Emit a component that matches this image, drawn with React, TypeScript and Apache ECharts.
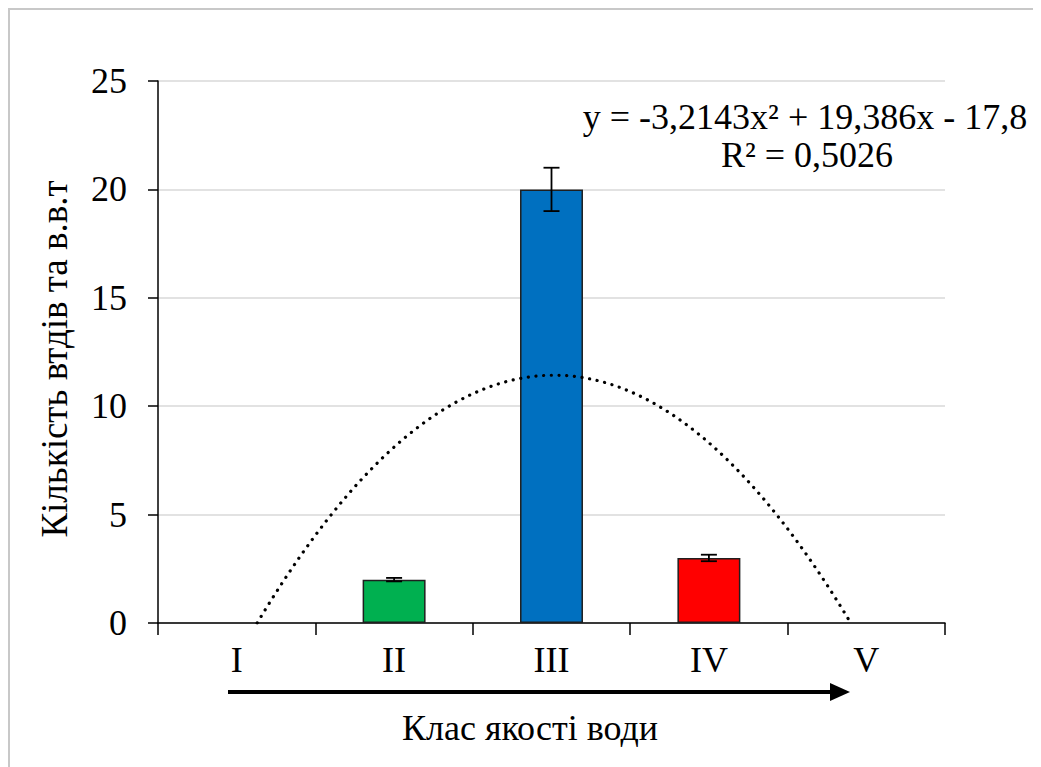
import React, { useEffect, useRef } from "react";
import * as echarts from "echarts";

const categories = ["I", "II", "III", "IV", "V"];
const values = [0, 2, 20, 3, 0];
const errors = [0, 0.08, 1, 0.15, 0];
const barColors = ["#00b050", "#00b050", "#0070c0", "#ff0000", "#ff0000"];
const yTicks = [0, 5, 10, 15, 20, 25];
const yTitle = "Кількість втдів та в.в.т";
const xTitle = "Клас якості води";

const FONT = "Liberation Serif";
const FS = 36;

// quadratic least-squares trendline on x = 1..5
function quadFit(ys: number[]) {
  const xs = ys.map((_, i) => i + 1);
  let s0 = 0, s1 = 0, s2 = 0, s3 = 0, s4 = 0, t0 = 0, t1 = 0, t2 = 0;
  xs.forEach((x, i) => {
    const y = ys[i];
    s0 += 1; s1 += x; s2 += x * x; s3 += x ** 3; s4 += x ** 4;
    t0 += y; t1 += x * y; t2 += x * x * y;
  });
  const M = [
    [s4, s3, s2, t2],
    [s3, s2, s1, t1],
    [s2, s1, s0, t0],
  ];
  for (let i = 0; i < 3; i++) {
    for (let k = i + 1; k < 3; k++) {
      const f = M[k][i] / M[i][i];
      for (let j = i; j < 4; j++) M[k][j] -= f * M[i][j];
    }
  }
  const r = [0, 0, 0];
  for (let i = 2; i >= 0; i--) {
    let s = M[i][3];
    for (let j = i + 1; j < 3; j++) s -= M[i][j] * r[j];
    r[i] = s / M[i][i];
  }
  const [a, b, c] = r;
  const mean = t0 / s0;
  let ssTot = 0, ssRes = 0;
  xs.forEach((x, i) => {
    const f = a * x * x + b * x + c;
    ssTot += (ys[i] - mean) ** 2;
    ssRes += (ys[i] - f) ** 2;
  });
  return { a, b, c, r2: 1 - ssRes / ssTot };
}

const fit = quadFit(values);

function fmt(v: number, p: number) {
  let s = Math.abs(v).toPrecision(p);
  if (s.includes(".")) s = s.replace(/0+$/, "").replace(/\.$/, "");
  return s.replace(".", ",");
}

const eqLine1 =
  "y = " + (fit.a < 0 ? "-" : "") + fmt(fit.a, 5) + "x² " +
  (fit.b < 0 ? "- " : "+ ") + fmt(fit.b, 5) + "x " +
  (fit.c < 0 ? "- " : "+ ") + fmt(fit.c, 5);
const eqLine2 = "R² = " + fmt(fit.r2, 4);

function trendPoints() {
  const { a, b, c } = fit;
  const disc = Math.sqrt(b * b - 4 * a * c);
  const r1 = (-b + disc) / (2 * a);
  const r2 = (-b - disc) / (2 * a);
  const lo = Math.min(r1, r2);
  const hi = Math.max(r1, r2);
  const pts: number[][] = [];
  const n = 120;
  for (let i = 0; i <= n; i++) {
    const x = lo + ((hi - lo) * i) / n;
    pts.push([x, Math.max(0, a * x * x + b * x + c)]);
  }
  return pts;
}

const txt = (text: string, x: number, y: number, size: number, extra: any = {}) => ({
  type: "text",
  x,
  y,
  ...extra,
  style: {
    text,
    fontFamily: FONT,
    fontSize: size,
    fill: "#000",
    textAlign: "center",
    textVerticalAlign: "middle",
  },
});

export default function App() {
  const ref = useRef<HTMLDivElement>(null);
  useEffect(() => {
    if (!ref.current) return;
    const chart = echarts.init(ref.current, undefined, { renderer: "svg" });
    const errData = values
      .map((v, i) => [i, v - errors[i], v + errors[i]])
      .filter((d, i) => errors[i] > 0);
    chart.setOption({
      animation: false,
      textStyle: { fontFamily: FONT },
      grid: { left: 148, top: 71, width: 787, height: 542, containLabel: false },
      xAxis: [
        {
          type: "category",
          data: categories,
          boundaryGap: true,
          axisLine: { lineStyle: { color: "#000", width: 1.5 } },
          axisTick: { show: true, length: 12, lineStyle: { color: "#000", width: 1.5 } },
          axisLabel: { color: "#000", fontSize: FS, fontFamily: FONT, margin: 19 },
          splitLine: { show: false },
        },
        {
          type: "value",
          min: 0.5,
          max: 5.5,
          show: false,
        },
      ],
      yAxis: {
        type: "value",
        min: 0,
        max: 25,
        interval: 5,
        axisLine: { show: true, lineStyle: { color: "#000", width: 1.5 } },
        axisTick: { show: true, length: 10, lineStyle: { color: "#000", width: 1.5 } },
        axisLabel: {
          color: "#000",
          fontSize: FS,
          fontFamily: FONT,
          margin: 31,
          formatter: (v: number) => (yTicks.includes(v) ? String(v) : ""),
        },
        splitLine: { show: true, lineStyle: { color: "#d9d9d9", width: 1.5 } },
      },
      series: [
        {
          type: "bar",
          xAxisIndex: 0,
          barWidth: "40%",
          data: values.map((v, i) => ({
            value: v,
            itemStyle: {
              color: barColors[i],
              borderColor: "#1f1f1f",
              borderWidth: v === 0 ? 0 : 1.5,
            },
          })),
          z: 2,
        },
        {
          type: "custom",
          xAxisIndex: 0,
          data: errData,
          z: 3,
          renderItem: (params: any, api: any) => {
            const idx = api.value(0);
            const p1 = api.coord([idx, api.value(1)]);
            const p2 = api.coord([idx, api.value(2)]);
            const hw = 8;
            const style = { stroke: "#000", lineWidth: 1.8 };
            return {
              type: "group",
              children: [
                { type: "line", shape: { x1: p1[0], y1: p1[1], x2: p2[0], y2: p2[1] }, style },
                { type: "line", shape: { x1: p1[0] - hw, y1: p1[1], x2: p1[0] + hw, y2: p1[1] }, style },
                { type: "line", shape: { x1: p2[0] - hw, y1: p2[1], x2: p2[0] + hw, y2: p2[1] }, style },
              ],
            };
          },
        },
        {
          type: "line",
          xAxisIndex: 1,
          data: trendPoints(),
          showSymbol: false,
          smooth: false,
          lineStyle: { color: "#000", width: 3.2, type: [0.1, 7.6], cap: "round" },
          z: 4,
        },
      ],
      graphic: [
        txt(eqLine1, 795, 107, FS),
        txt(eqLine2, 797, 145, FS),
        txt(yTitle, 44, 349, 37, { rotation: Math.PI / 2 }),
        txt(xTitle, 520, 718, FS),
        {
          type: "line",
          shape: { x1: 218, y1: 682, x2: 825, y2: 682 },
          style: { stroke: "#000", lineWidth: 4 },
        },
        {
          type: "polygon",
          shape: { points: [[820, 673], [840, 682], [820, 691]] },
          style: { fill: "#000" },
        },
      ],
    });
    return () => chart.dispose();
  }, []);
  return (
    <div
      style={{
        width: 1033,
        height: 770,
        border: "2px solid #c8c8c8",
        boxSizing: "border-box",
        background: "#fff",
      }}
    >
      <div ref={ref} style={{ width: 1029, height: 766 }} />
    </div>
  );
}
